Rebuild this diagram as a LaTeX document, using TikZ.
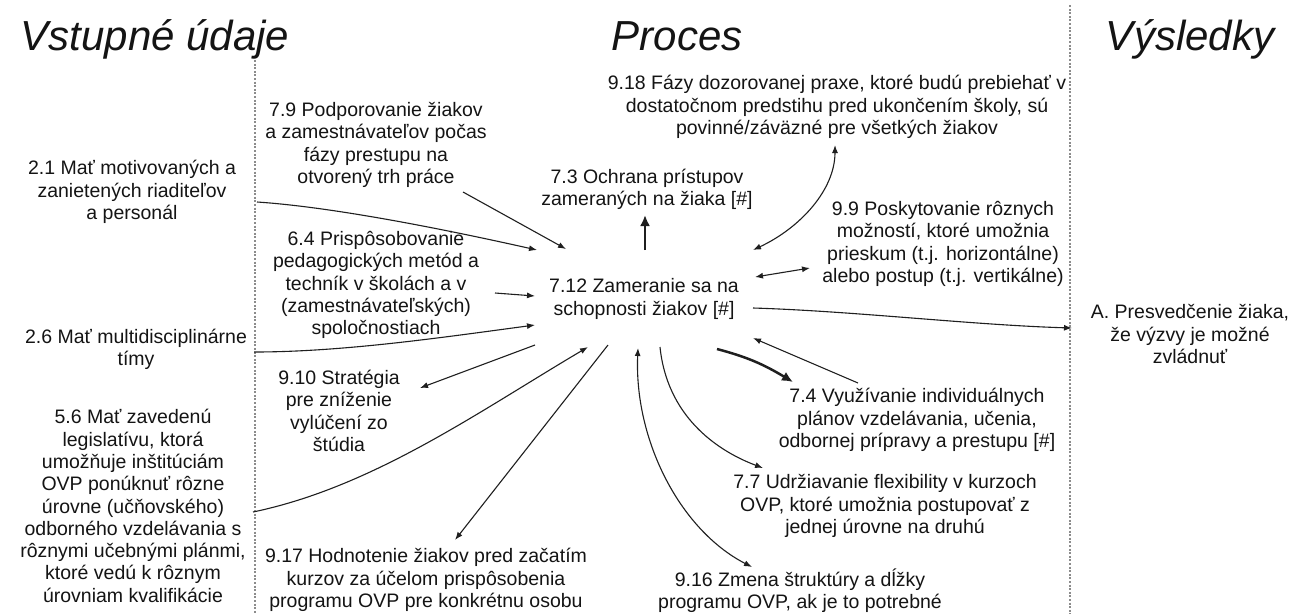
\documentclass[tikz,border=0pt]{standalone}
\usepackage{fontspec}
\setmainfont{Liberation Sans}
\usetikzlibrary{arrows.meta,calc}
\begin{document}
\begin{tikzpicture}[x=1pt,y=-1pt,
  txt/.style={align=center, inner sep=0pt, font=\fontsize{19.5}{22.3}\selectfont, text=black!92},
  title/.style={anchor=base, inner sep=0pt, font=\fontsize{42}{48}\selectfont\itshape, text=black!92},
  divider/.style={draw=black!45, line width=1.3pt, dash pattern=on 2pt off 1.6pt},
  conn/.style={draw=black!88, line width=1.1pt},
  arr/.style={conn, -{Latex[length=8pt,width=6pt]}},
  darr/.style={conn, {Latex[length=8pt,width=6pt]}-{Latex[length=8pt,width=6pt]}},
  boldarr/.style={draw=black!88, line width=2.5pt, -{Latex[length=11pt,width=10pt]}},
]
\useasboundingbox[fill=white] (0,0) rectangle (1292,614);

% column dividers
\draw[divider] (255,60) -- (255,614);
\draw[divider] (1070,5) -- (1070,614);

% column headings
\node[title] (hin)  at (155,50)  {Vstupné údaje};
\node[title] (hpro) at (677,50)  {Proces};
\node[title] (hout) at (1190,50) {Výsledky};

% inputs
\node[txt] (n21) at (132,192) {2.1 Mať motivovaných a\\zanietených riaditeľov\\a personál};
\node[txt] (n26) at (136,349) {2.6 Mať multidisciplinárne\\tímy};
\node[txt] (n56) at (133,506) {5.6 Mať zavedenú\\legislatívu, ktorá\\umožňuje inštitúciám\\OVP ponúknuť rôzne\\úrovne (učňovského)\\odborného vzdelávania s\\rôznymi učebnými plánmi,\\ktoré vedú k rôznym\\úrovniam kvalifikácie};

% process
\node[txt] (n79)  at (376,145) {7.9 Podporovanie žiakov\\a zamestnávateľov počas\\fázy prestupu na\\otvorený trh práce};
\node[txt] (n64)  at (376,285) {6.4 Prispôsobovanie\\pedagogických metód a\\techník v školách a v\\(zamestnávateľských)\\spoločnostiach};
\node[txt] (n910) at (339,411) {9.10 Stratégia\\pre zníženie\\vylúčení zo\\štúdia};
\node[txt] (n917) at (426,580) {9.17 Hodnotenie žiakov pred začatím\\kurzov za účelom prispôsobenia\\programu OVP pre konkrétnu osobu};
\node[txt] (n73)  at (647,189) {7.3 Ochrana prístupov\\zameraných na žiaka [\#]};
\node[txt] (n918) at (837,107) {9.18 Fázy dozorovanej praxe, ktoré budú prebiehať v\\dostatočnom predstihu pred ukončením školy, sú\\povinné/záväzné pre všetkých žiakov};
\node[txt] (n99)  at (943,244) {9.9 Poskytovanie rôznych\\možností, ktoré umožnia\\prieskum (t.j. horizontálne)\\alebo postup (t.j. vertikálne)};
\node[txt] (n712) at (644,299) {7.12 Zameranie sa na\\schopnosti žiakov [\#]};
\node[txt] (n74)  at (917,420) {7.4 Využívanie individuálnych\\plánov vzdelávania, učenia,\\odbornej prípravy a prestupu [\#]};
\node[txt] (n77)  at (885,506) {7.7 Udržiavanie flexibility v kurzoch\\OVP, ktoré umožnia postupovať z\\jednej úrovne na druhú};
\node[txt] (n916) at (800,591) {9.16 Zmena štruktúry a dĺžky\\programu OVP, ak je to potrebné};

% outcome
\node[txt] (nA) at (1190,334) {A. Presvedčenie žiaka,\\že výzvy je možné\\zvládnuť};

% connectors into 7.12
\draw[arr] ([shift={(125,10)}]n21.center) .. controls +(61,4) and +(-125,-28) .. ([shift={(-107,-49)}]n712.center);
\draw[arr] ([shift={(87,47)}]n79.center) -- ([shift={(-78,-50)}]n712.center);
\draw[arr] ([shift={(119,8)}]n64.center) -- ([shift={(-109,-3)}]n712.center);
\draw[arr] ([shift={(118,3)}]n26.center) .. controls +(90,0) and +(-90,12) .. ([shift={(-109,26)}]n712.center);
\draw[arr] ([shift={(120,6)}]n56.center) .. controls +(120,-25) and +(-110,65) .. ([shift={(-56,48)}]n712.center);
\draw[arr] ([shift={(-59,-37)}]n74.center) -- ([shift={(109,39)}]n712.center);

% connectors out of 7.12
\draw[arr] ([shift={(-109,46)}]n712.center) -- ([shift={(81,-23)}]n910.center);
\draw[arr] ([shift={(-36,46)}]n712.center) -- ([shift={(29,-40)}]n917.center);
\draw[darr] ([shift={(-6,49)}]n712.center) .. controls +(-4,92) and +(-72,-37) .. ([shift={(-48,-24)}]n916.center);
\draw[arr] ([shift={(16,48)}]n712.center) .. controls +(7,68) and +(-48,-18) .. ([shift={(-122,-38)}]n77.center);
\draw[boldarr] ([shift={(73,50)}]n712.center) .. controls +(30,8) and +(-30,-18) .. ([shift={(-124,-38)}]n74.center);
\draw[arr] ([shift={(109,9)}]n712.center) .. controls +(100,3) and +(-100,-3) .. ([shift={(-118,-6)}]nA.center);
\draw[darr] ([shift={(111,-22)}]n712.center) -- ([shift={(-133,24)}]n99.center);
\draw[darr] ([shift={(109,-49)}]n712.center) .. controls +(47,-22) and +(0,45) .. ([shift={(-2,38)}]n918.center);
\draw[boldarr] ([shift={(1,-49)}]n712.center) -- ([shift={(-2,26)}]n73.center);
\end{tikzpicture}
\end{document}
